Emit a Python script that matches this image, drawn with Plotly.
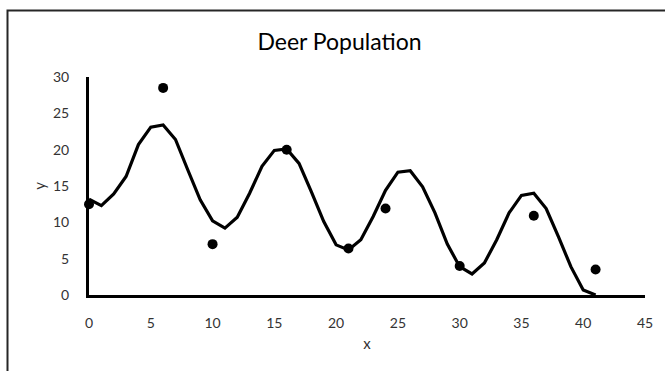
import plotly.graph_objects as go

# Observed deer counts
obs_x = [0, 6, 10, 16, 21, 24, 30, 36, 41]
obs_y = [12.5, 28.5, 7.0, 20.0, 6.4, 11.9, 4.0, 10.9, 3.5]

# Model curve, sampled once per year
model_x = list(range(0, 42))
model_y = [13.2, 12.3, 13.9, 16.3, 20.7, 23.1, 23.4, 21.4, 17.2, 13.1,
           10.2, 9.2, 10.7, 14.0, 17.7, 19.9, 20.1, 18.1, 14.2, 10.1,
           6.9, 6.2, 7.6, 10.8, 14.4, 16.9, 17.1, 14.9, 11.3, 7.0,
           3.9, 2.9, 4.4, 7.6, 11.3, 13.7, 14.0, 11.9, 8.0, 3.9,
           0.7, 0.0]

x_ticks = [0, 5, 10, 15, 20, 25, 30, 35, 40, 45]
y_ticks = [0, 5, 10, 15, 20, 25, 30]

FONT = "Lato, Carlito, 'Open Sans', sans-serif"
TEXT = "#333333"

fig = go.Figure()
fig.add_trace(go.Scatter(
    x=model_x, y=model_y, mode="lines",
    line=dict(color="black", width=3.2),
    showlegend=False, cliponaxis=False,
))
fig.add_trace(go.Scatter(
    x=obs_x, y=obs_y, mode="markers",
    marker=dict(color="black", size=10),
    showlegend=False, cliponaxis=False,
))

W, H = 665, 371
L, R, T, B = 89, 20, 77, 76
pw, ph = W - L - R, H - T - B

def px_x(p):
    return (p - L) / pw

def px_y(p):
    return (H - B - p) / ph

# Chart-area frame
fig.add_shape(type="rect", xref="paper", yref="paper",
              x0=px_x(7.5), x1=px_x(680), y0=px_y(390), y1=px_y(10.5),
              line=dict(color="#262626", width=2), fillcolor="rgba(0,0,0,0)",
              layer="below")

fig.update_layout(
    width=W, height=H,
    margin=dict(l=L, r=R, t=T, b=B),
    paper_bgcolor="white", plot_bgcolor="white",
    font=dict(family=FONT, color=TEXT, size=14),
    title=dict(text="Deer Population", x=px_x(339.5), xref="paper",
               xanchor="center", y=(H - 42) / H, yanchor="middle",
               font=dict(family=FONT, size=23, color="black")),
)
fig.update_xaxes(
    range=[0, 45], tickvals=x_ticks, ticks="", showgrid=False, zeroline=False,
    showline=True, linecolor="black", linewidth=3,
    ticklabelstandoff=13,
    title=dict(text="x", standoff=9, font=dict(size=15)),
    tickfont=dict(size=14),
)
fig.update_yaxes(
    range=[0, 30], tickvals=y_ticks, ticks="", showgrid=False, zeroline=False,
    showline=True, linecolor="black", linewidth=3,
    ticklabelstandoff=14,
    title=dict(text="y", standoff=4, font=dict(size=15)),
    tickfont=dict(size=14),
)

fig.write_html("out.html")
